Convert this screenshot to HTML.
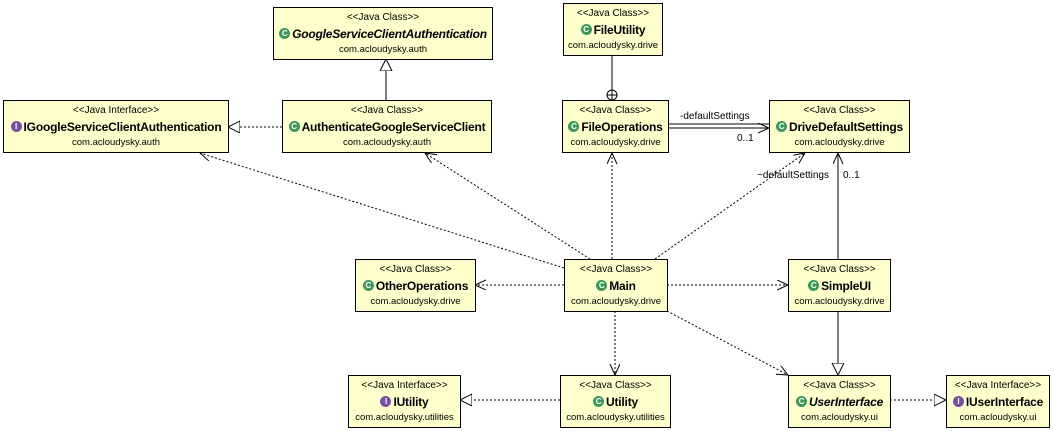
<!DOCTYPE html>
<html><head><meta charset="utf-8"><style>
body{margin:0;background:#fff;position:relative;width:1054px;height:431px;overflow:hidden;font-family:"Liberation Sans",sans-serif}
svg{position:absolute;left:0;top:0}
.b{position:absolute;background:#ffffcc;border:1px solid #000;box-sizing:border-box;height:53px;text-align:center;color:#000}
.s{font-size:10px;line-height:10px;margin-top:5px}
.n{font-size:12px;font-weight:bold;line-height:14px;margin-top:4px;white-space:nowrap;letter-spacing:-0.2px}
.p{font-size:9.5px;line-height:10px;margin-top:4px;white-space:nowrap}
.i{display:inline-block;width:11px;height:11px;border-radius:50%;background:#3a9a5a;color:#fff;font-size:8px;line-height:11px;font-style:normal;vertical-align:top;margin-top:1px;margin-right:2px;text-align:center}
.v{background:#7a4ea8}
.d{stroke:#000;stroke-dasharray:2,2;fill:none}
.l{stroke:#000;fill:none}
</style></head><body>
<svg width="1054" height="431" viewBox="0 0 1054 431" font-family="Liberation Sans, sans-serif">
<defs>
<marker id="tri" markerWidth="14" markerHeight="14" refX="12" refY="6" orient="auto" markerUnits="userSpaceOnUse"><path d="M0,0 L12,6 L0,12 Z" fill="#fff" stroke="#000"/></marker>
<marker id="op" markerWidth="14" markerHeight="14" refX="11" refY="5" orient="auto" markerUnits="userSpaceOnUse"><path d="M0,0 L11,5 L0,10" fill="none" stroke="#000"/></marker>
</defs>
<line class="l" x1="386" y1="100" x2="386" y2="59" marker-end="url(#tri)"/>
<line class="d" x1="282" y1="127" x2="228" y2="127" marker-end="url(#tri)"/>
<line class="l" x1="612" y1="55" x2="612" y2="100"/>
<circle cx="612" cy="95" r="5" fill="#fff" stroke="#000"/><line class="l" x1="607" y1="95" x2="617" y2="95"/><line class="l" x1="612" y1="90" x2="612" y2="100"/>
<line class="l" x1="668" y1="124" x2="769" y2="124"/>
<line class="l" x1="668" y1="128" x2="769" y2="128" marker-end="url(#op)"/>
<text x="680" y="119" font-size="10">-defaultSettings</text>
<text x="737" y="141" font-size="10">0..1</text>
<line class="d" x1="612" y1="259" x2="612" y2="153" marker-end="url(#op)"/>
<line class="d" x1="655" y1="259" x2="805" y2="153" marker-end="url(#op)"/>
<text x="757" y="178" font-size="10">~defaultSettings</text>
<line class="l" x1="838" y1="259" x2="838" y2="153" marker-end="url(#op)"/>
<text x="843" y="178" font-size="10">0..1</text>
<line class="d" x1="564" y1="268" x2="200" y2="153" marker-end="url(#op)"/>
<line class="d" x1="590" y1="259" x2="425" y2="153" marker-end="url(#op)"/>
<line class="d" x1="564" y1="285" x2="475" y2="285" marker-end="url(#op)"/>
<line class="d" x1="667" y1="285" x2="788" y2="285" marker-end="url(#op)"/>
<line class="d" x1="615" y1="311" x2="615" y2="375" marker-end="url(#op)"/>
<line class="d" x1="667" y1="311" x2="788" y2="375" marker-end="url(#op)"/>
<line class="l" x1="838" y1="311" x2="838" y2="375" marker-end="url(#tri)"/>
<line class="d" x1="560" y1="400" x2="460" y2="400" marker-end="url(#tri)"/>
<line class="d" x1="890" y1="400" x2="946" y2="400" marker-end="url(#tri)"/>
</svg>
<div class="b" style="left:273px;top:7px;width:220px"><div class="s">&lt;&lt;Java Class&gt;&gt;</div><div class="n"><span class="i">C</span><i>GoogleServiceClientAuthentication</i></div><div class="p">com.acloudysky.auth</div></div>
<div class="b" style="left:563px;top:3px;width:100px"><div class="s">&lt;&lt;Java Class&gt;&gt;</div><div class="n"><span class="i">C</span>FileUtility</div><div class="p">com.acloudysky.drive</div></div>
<div class="b" style="left:3px;top:100px;width:226px"><div class="s">&lt;&lt;Java Interface&gt;&gt;</div><div class="n"><span class="i v">I</span>IGoogleServiceClientAuthentication</div><div class="p">com.acloudysky.auth</div></div>
<div class="b" style="left:282px;top:100px;width:210px"><div class="s">&lt;&lt;Java Class&gt;&gt;</div><div class="n"><span class="i">C</span>AuthenticateGoogleServiceClient</div><div class="p">com.acloudysky.auth</div></div>
<div class="b" style="left:562px;top:100px;width:107px"><div class="s">&lt;&lt;Java Class&gt;&gt;</div><div class="n"><span class="i">C</span>FileOperations</div><div class="p">com.acloudysky.drive</div></div>
<div class="b" style="left:769px;top:100px;width:141px"><div class="s">&lt;&lt;Java Class&gt;&gt;</div><div class="n"><span class="i">C</span>DriveDefaultSettings</div><div class="p">com.acloudysky.drive</div></div>
<div class="b" style="left:355px;top:259px;width:121px"><div class="s">&lt;&lt;Java Class&gt;&gt;</div><div class="n"><span class="i">C</span>OtherOperations</div><div class="p">com.acloudysky.drive</div></div>
<div class="b" style="left:564px;top:259px;width:104px"><div class="s">&lt;&lt;Java Class&gt;&gt;</div><div class="n"><span class="i">C</span>Main</div><div class="p">com.acloudysky.drive</div></div>
<div class="b" style="left:788px;top:259px;width:103px"><div class="s">&lt;&lt;Java Class&gt;&gt;</div><div class="n"><span class="i">C</span>SimpleUI</div><div class="p">com.acloudysky.drive</div></div>
<div class="b" style="left:348px;top:375px;width:113px"><div class="s">&lt;&lt;Java Interface&gt;&gt;</div><div class="n"><span class="i v">I</span>IUtility</div><div class="p">com.acloudysky.utilities</div></div>
<div class="b" style="left:560px;top:375px;width:111px"><div class="s">&lt;&lt;Java Class&gt;&gt;</div><div class="n"><span class="i">C</span>Utility</div><div class="p">com.acloudysky.utilities</div></div>
<div class="b" style="left:788px;top:375px;width:103px"><div class="s">&lt;&lt;Java Class&gt;&gt;</div><div class="n"><span class="i">C</span><i>UserInterface</i></div><div class="p">com.acloudysky.ui</div></div>
<div class="b" style="left:946px;top:375px;width:104px"><div class="s">&lt;&lt;Java Interface&gt;&gt;</div><div class="n"><span class="i v">I</span>IUserInterface</div><div class="p">com.acloudysky.ui</div></div>
</body></html>
